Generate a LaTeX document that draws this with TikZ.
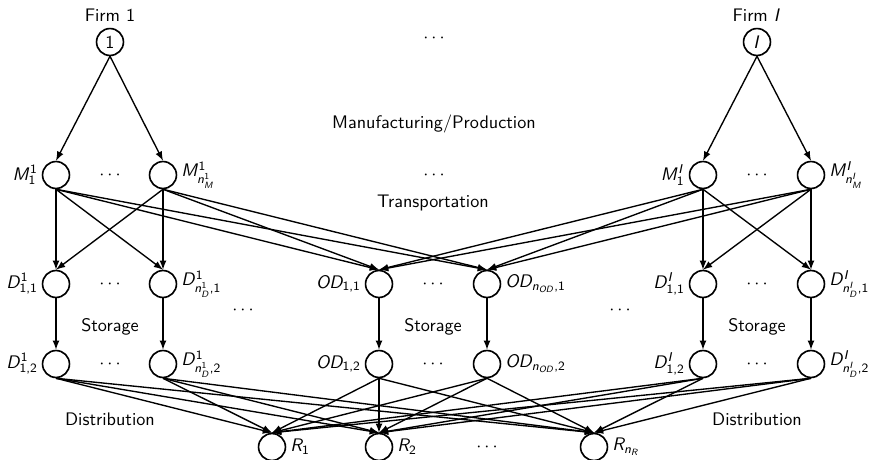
\documentclass[tikz,border=0pt]{standalone}
\DeclareSymbolFont{operators}{OT1}{cmss}{m}{n}
\DeclareSymbolFont{letters}{OT1}{cmss}{m}{sl}
\DeclareMathSymbol{,}{\mathpunct}{operators}{"2C}

\begin{document}
\begin{tikzpicture}[x={(0.55pt,0pt)}, y={(0pt,-0.55pt)}, font=\sffamily]
%styles des noeuds
\tikzstyle{firm}=[circle, draw, line width=0.9pt, minimum size=14.8pt, inner sep=0pt]
\tikzstyle{site}=[circle, draw, line width=0.9pt, minimum size=14.8pt, inner sep=0pt]
\tikzstyle{textLine}=[rectangle, text=black]
\tikzstyle{flow}=[-latex, line width=0.75pt]
\tikzset{every label/.style={inner sep=2pt}}

\useasboundingbox (0,0) rectangle (869,459);

%firms
\node[firm, label={[inner sep=3pt]above:{Firm 1}}] (f1) at (110,42) {1};
\node[firm, label={[inner sep=3pt]above:{Firm $I$}}] (fI) at (757,42) {$I$};
\node[textLine] (dotsF) at (434,38) {$\cdots$};

%manufacturing
\node[site, label={left:$M^1_1$}] (m11) at (56,175) {};
\node[site, label={right:$M^1_{n^1_M}$}] (m1n) at (163,175) {};
\node[site, label={left:$M^I_1$}] (mI1) at (703,175) {};
\node[site, label={right:$M^I_{n^I_M}$}] (mIn) at (811,175) {};
\node[textLine] (dotsM1) at (110,175) {$\cdots$};
\node[textLine] (dotsM) at (434,175) {$\cdots$};
\node[textLine] (dotsMI) at (757,175) {$\cdots$};
\node[textLine] (manuf) at (434,124) {Manufacturing/Production};
\node[textLine] (transp) at (433,203) {Transportation};

%storage, first level
\node[site, label={left:$D^1_{1,1}$}] (d111) at (56,284) {};
\node[site, label={right:$D^1_{n^1_D,1}$}] (d1n1) at (163,284) {};
\node[site, label={left:$OD_{1,1}$}] (od11) at (379,284) {};
\node[site, label={right:$OD_{n_{OD},1}$}] (odn1) at (487,284) {};
\node[site, label={left:$D^I_{1,1}$}] (dI11) at (703,284) {};
\node[site, label={right:$D^I_{n^I_D,1}$}] (dIn1) at (811,284) {};
\node[textLine] (dotsD1) at (110,284) {$\cdots$};
\node[textLine] (dotsOD1) at (433,284) {$\cdots$};
\node[textLine] (dotsDI) at (757,284) {$\cdots$};
\node[textLine] (dotsL) at (243,310) {$\cdots$};
\node[textLine] (dotsR) at (620,310) {$\cdots$};

%storage, second level
\node[site, label={left:$D^1_{1,2}$}] (d112) at (56,364) {};
\node[site, label={right:$D^1_{n^1_D,2}$}] (d1n2) at (163,364) {};
\node[site, label={left:$OD_{1,2}$}] (od12) at (379,364) {};
\node[site, label={right:$OD_{n_{OD},2}$}] (odn2) at (487,364) {};
\node[site, label={left:$D^I_{1,2}$}] (dI12) at (703,364) {};
\node[site, label={right:$D^I_{n^I_D,2}$}] (dIn2) at (811,364) {};
\node[textLine] (dotsD2) at (110,364) {$\cdots$};
\node[textLine] (dotsOD2) at (433,364) {$\cdots$};
\node[textLine] (dotsDI2) at (757,364) {$\cdots$};
\node[textLine] (stor1) at (110,327) {Storage};
\node[textLine] (stor) at (433,327) {Storage};
\node[textLine] (storI) at (757,327) {Storage};

%retailers
\node[site, label={right:$R_1$}] (r1) at (272,447) {};
\node[site, label={right:$R_2$}] (r2) at (379,447) {};
\node[site, label={right:$R_{n_R}$}] (rn) at (594,447) {};
\node[textLine] (dotsRt) at (487,447) {$\cdots$};
\node[textLine] (distr1) at (110,419) {Distribution};
\node[textLine] (distrI) at (757,419) {Distribution};

%production flows
\path (f1.south) edge[flow] (m11.north) edge[flow] (m1n.north);
\path (fI.south) edge[flow] (mI1.north) edge[flow] (mIn.north);

%transportation flows
\path (m11.south) edge[flow] (d111.north) edge[flow] (d1n1.north) edge[flow] (od11.north) edge[flow] (odn1.north);
\path (m1n.south) edge[flow] (d111.north) edge[flow] (d1n1.north) edge[flow] (od11.north) edge[flow] (odn1.north);
\path (mI1.south) edge[flow] (dI11.north) edge[flow] (dIn1.north) edge[flow] (od11.north) edge[flow] (odn1.north);
\path (mIn.south) edge[flow] (dI11.north) edge[flow] (dIn1.north) edge[flow] (od11.north) edge[flow] (odn1.north);

%storage flows
\draw[flow] (d111.south) -- (d112.north);
\draw[flow] (d1n1.south) -- (d1n2.north);
\draw[flow] (od11.south) -- (od12.north);
\draw[flow] (odn1.south) -- (odn2.north);
\draw[flow] (dI11.south) -- (dI12.north);
\draw[flow] (dIn1.south) -- (dIn2.north);

%distribution flows
\path (d112.south) edge[flow] (r1.north) edge[flow] (r2.north) edge[flow] (rn.north);
\path (d1n2.south) edge[flow] (r1.north) edge[flow] (r2.north) edge[flow] (rn.north);
\path (od12.south) edge[flow] (r1.north) edge[flow] (r2.north) edge[flow] (rn.north);
\path (odn2.south) edge[flow] (r1.north) edge[flow] (r2.north) edge[flow] (rn.north);
\path (dI12.south) edge[flow] (r1.north) edge[flow] (r2.north) edge[flow] (rn.north);
\path (dIn2.south) edge[flow] (r1.north) edge[flow] (r2.north) edge[flow] (rn.north);

\end{tikzpicture}
\end{document}
